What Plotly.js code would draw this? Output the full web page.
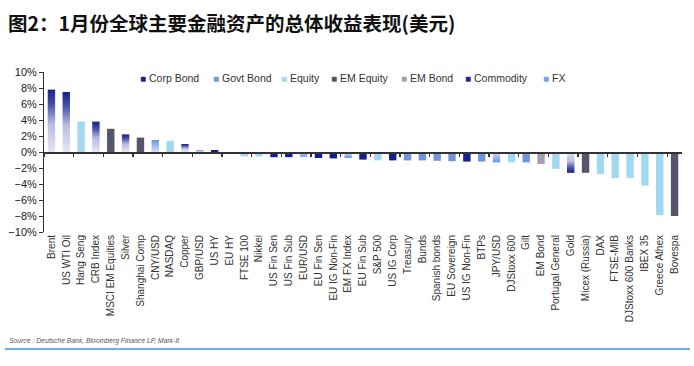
<!DOCTYPE html>
<html><head><meta charset="utf-8">
<script src="https://cdn.plot.ly/plotly-3.0.1.min.js"></script>
<style>html,body{margin:0;padding:0;background:#fff;} #chart{width:694px;height:366px;}</style>
</head><body><div id="chart"></div>
<script>
const categories = ['Brent','US WTI Oil','Hang Seng','CRB Index','MSCI EM Equities','Silver','Shanghai Comp','CNY/USD','NASDAQ','Copper','GBP/USD','US HY','EU HY','FTSE 100','Nikkei','US Fin Sen','US Fin Sub','EUR/USD','EU Fin Sen','EU IG Non-Fin','EM FX Index','EU Fin Sub','S&P 500','US IG Corp','Treasury','Bunds','Spanish bonds','EU Sovereign','US IG Non-Fin','BTPs','JPY/USD','DJStoxx 600','Gilt','EM Bond','Portugal General','Gold','Micex (Russia)','DAX','FTSE-MIB','DJStoxx 600 Banks','IBEX 35','Greece Athex','Bovespa'];
const returns = [7.8,7.5,3.8,3.8,2.9,2.2,1.8,1.5,1.4,1.0,0.25,0.25,-0.15,-0.55,-0.55,-0.65,-0.65,-0.6,-0.75,-0.8,-0.75,-0.95,-1.05,-1.05,-1.05,-1.05,-1.1,-1.15,-1.2,-1.2,-1.3,-1.3,-1.3,-1.5,-2.1,-2.6,-2.6,-2.75,-3.25,-3.25,-4.2,-7.9,-8.0];
const assetClass = ['Commodity','Commodity','Equity','Commodity','EM Equity','Commodity','EM Equity','FX','Equity','Commodity','FX','Corp Bond','Corp Bond','Equity','Equity','Corp Bond','Corp Bond','FX','Corp Bond','Corp Bond','FX','Corp Bond','Equity','Corp Bond','Govt Bond','Govt Bond','Govt Bond','Govt Bond','Corp Bond','Govt Bond','FX','Equity','Govt Bond','EM Bond','Equity','Commodity','EM Equity','Equity','Equity','Equity','Equity','Equity','EM Equity'];
const seriesNames = ['Corp Bond','Govt Bond','Equity','EM Equity','EM Bond','Commodity','FX'];
const titleText = '图2：1月份全球主要金融资产的总体收益表现(美元)';
const sourceText = 'Source : Deutsche Bank, Bloomberg Finance LP, Mark-It';

// styles (kept separate from data)
const style = {
  'Corp Bond': {color:'#14208c'},
  'Govt Bond': {color:'#6f95df'},
  'Equity':    {color:'#a3d8f1'},
  'EM Equity': {color:'#56566a'},
  'EM Bond':   {color:'#a2a2ae'},
  'Commodity': {color:'#1b2590', grad:[[0,'#16208a'],[0.25,'#4b55ab'],[0.55,'#b9bce2'],[1,'#e6e6f4']]},
  'FX':        {color:'#7aa0e4', grad:[[0,'#6b93de'],[0.5,'#9fbbec'],[1,'#d4e0f6']]}
};
const legendPx = {'Corp Bond':138,'Govt Bond':211,'Equity':279,'EM Equity':329,'EM Bond':399,'Commodity':463,'FX':541};

const L = 44, R = 12, T = 72, B = 134, W = 694, H = 366;
const plotW = W - L - R, plotH = H - T - B;
const px2x = p => (p - L) / plotW;
const py2y = p => (T + plotH - p) / plotH;

const traces = seriesNames.map(name => {
  const idx = categories.map((c, i) => i).filter(i => assetClass[i] === name);
  return {
    type: 'bar', name: name,
    x: idx.map(i => categories[i]),
    y: idx.map(i => returns[i]),
    width: 0.5,
    marker: {color: style[name].color, line: {width: 0}},
    showlegend: false,
    hovertemplate: '%{x}: %{y:.2f}%<extra>' + name + '</extra>'
  };
});
// invisible trace that gives the zero-line axis its categories
const helper = {type:'scatter', mode:'markers', x: categories, y: returns, xaxis:'x2',
  marker:{opacity:0, size:1}, hoverinfo:'skip', showlegend:false};

const annotations = seriesNames.map(name => ({
  xref:'paper', yref:'paper', x: px2x(legendPx[name]), y: py2y(78),
  xanchor:'left', yanchor:'middle', showarrow:false,
  text: '<span style="color:' + style[name].color + ';font-size:10px">■</span> ' + name,
  font:{size:10.5, color:'#333', family:'"Liberation Sans", Arial, sans-serif'}
}));
annotations.push({
  xref:'paper', yref:'paper', x: px2x(7), y: py2y(341), xanchor:'left', yanchor:'middle',
  showarrow:false, text:'<i>' + sourceText + '</i>',
  font:{size:6.8, color:'#555', family:'"Liberation Sans", Arial, sans-serif'}
});

const xr = [-0.5, categories.length - 0.5];
const layout = {
  width: W, height: H,
  margin: {l:L, r:R, t:T, b:B, pad:0},
  paper_bgcolor:'#fff', plot_bgcolor:'#fff',
  barmode:'overlay',
  font:{family:'"Liberation Sans", Arial, sans-serif', color:'#333'},
  title:{text: titleText, font:{family:'"Noto Sans CJK SC", sans-serif', size:19.5, color:'#111', weight:'bold'},
    xref:'container', x: 8/W, xanchor:'left', yref:'container', y: 1 - 24/H, yanchor:'middle'},
  xaxis:{type:'category', categoryorder:'array', categoryarray: categories, range: xr,
    tickangle:-90, ticks:'', showline:false, showgrid:false, zeroline:false,
    tickfont:{size:10, color:'#333'}, fixedrange:true},
  xaxis2:{type:'category', categoryorder:'array', categoryarray: categories, range: xr,
    overlaying:'x', anchor:'free', position:0.5, side:'bottom',
    showline:true, linecolor:'#333', linewidth:1.5,
    ticks:'outside', tickson:'boundaries', ticklen:3, tickwidth:1.3, tickcolor:'#333',
    showticklabels:false, showgrid:false, zeroline:false, fixedrange:true},
  yaxis:{range:[-10,10], dtick:2, tick0:0, ticksuffix:'%', showline:true, linecolor:'#333', linewidth:1,
    ticks:'outside', ticklen:4, tickcolor:'#333', showgrid:false, zeroline:false,
    tickfont:{size:11, color:'#222'}, fixedrange:true},
  annotations: annotations,
  shapes:[{type:'line', xref:'paper', yref:'paper', x0: px2x(5), x1: px2x(690), y0: py2y(349), y1: py2y(349),
    line:{color:'#3a94d4', width:1.5}}]
};

const gd = document.getElementById('chart');
Plotly.newPlot(gd, traces.concat([helper]), layout, {displayModeBar:false, staticPlot:true}).then(applyGradients);

function applyGradients(){
  const svg = gd.querySelector('svg.main-svg');
  const defs = svg.querySelector('defs');
  const ns = 'http://www.w3.org/2000/svg';
  function makeGrad(id, stops, tipAtTop){
    const g = document.createElementNS(ns, 'linearGradient');
    g.setAttribute('id', id);
    g.setAttribute('x1','0'); g.setAttribute('x2','0');
    g.setAttribute('y1', tipAtTop ? '0' : '1'); g.setAttribute('y2', tipAtTop ? '1' : '0');
    stops.forEach(s => {
      const st = document.createElementNS(ns, 'stop');
      st.setAttribute('offset', s[0]); st.setAttribute('stop-color', s[1]);
      g.appendChild(st);
    });
    defs.appendChild(g);
  }
  const groups = gd.querySelectorAll('.barlayer .trace.bars');
  groups.forEach((grp, j) => {
    const name = seriesNames[j];
    const st = style[name];
    if(!st || !st.grad) return;
    makeGrad('grad' + j + 'up', st.grad, true);
    makeGrad('grad' + j + 'dn', st.grad, false);
    const ys = traces[j].y;
    grp.querySelectorAll('.point path').forEach((p, k) => {
      p.style.fill = 'url(#grad' + j + (ys[k] >= 0 ? 'up' : 'dn') + ')';
    });
  });
}
</script>
</body></html>
